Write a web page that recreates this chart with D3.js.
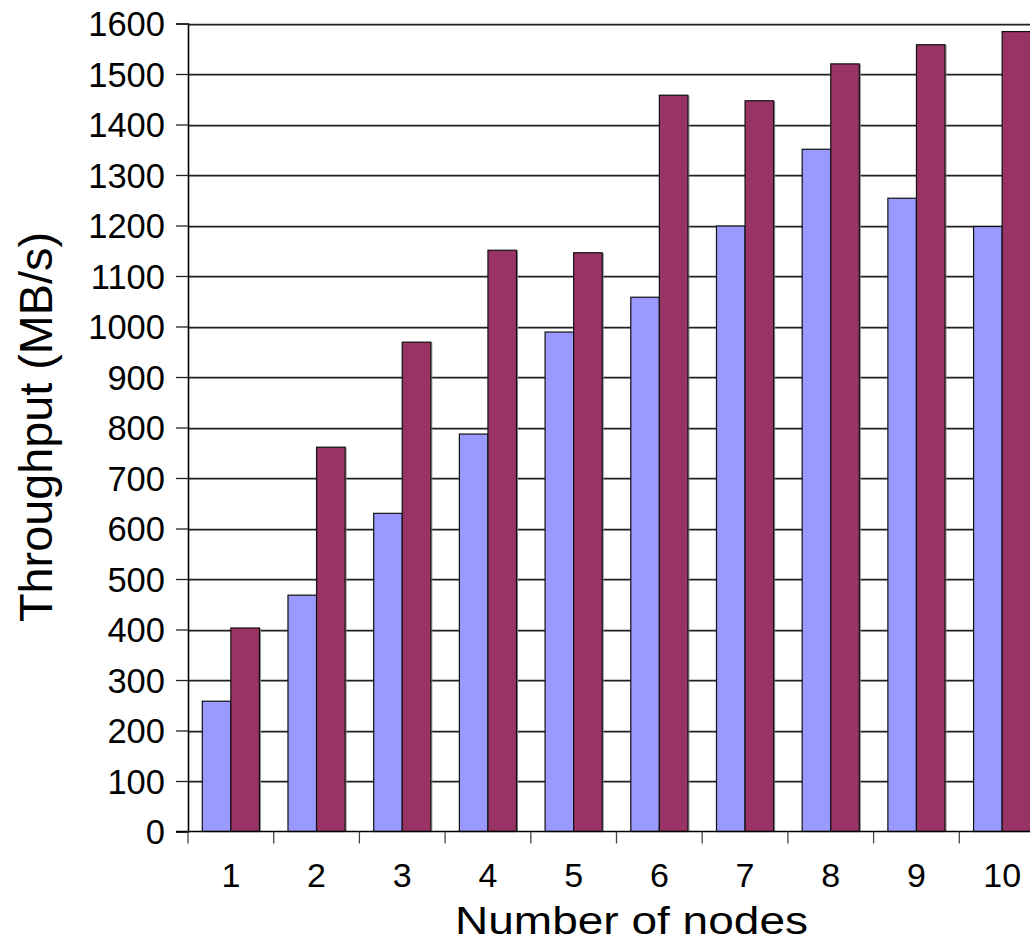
<!DOCTYPE html>
<html>
<head>
<meta charset="utf-8">
<script src="https://cdn.jsdelivr.net/npm/d3@7"></script>
<style>
  html, body { margin: 0; padding: 0; background: #fff; }
  svg { display: block; font-family: "Liberation Sans", Arial, sans-serif; }
</style>
</head>
<body>
<svg id="chart" width="1030" height="942"></svg>
<script>
const categories = ["1","2","3","4","5","6","7","8","9","10"];
const seriesA = [258, 468, 630, 787, 989, 1058, 1199, 1351, 1254, 1198];
const seriesB = [403, 761, 969, 1151, 1146, 1458, 1447, 1520, 1558, 1584];
const yTicks = [0,100,200,300,400,500,600,700,800,900,1000,1100,1200,1300,1400,1500,1600];
const colorA = "#9999FF";
const colorB = "#993366";

(function () {
const svg = d3.select("#chart");
const pLeft = 188, pRight = 1045, pTop = 23.5, pBottom = 831.5;

const x = d3.scaleBand().domain(categories).range([pLeft, pRight]).paddingInner(0).paddingOuter(0);
const y = d3.scaleLinear().domain([0, 1600]).range([pBottom, pTop]);
const bw = x.bandwidth();
const barW = bw / 3;

// gridlines
const grid = svg.append("g");
yTicks.forEach(t => {
  if (t === 0) return;
  const yy = Math.round(y(t)) + 0.5;
  grid.append("line").attr("x1", pLeft).attr("x2", 1030).attr("y1", yy + 1).attr("y2", yy + 1)
    .attr("stroke", "#b0b0b0").attr("stroke-width", 1);
  grid.append("line").attr("x1", pLeft).attr("x2", 1030).attr("y1", yy).attr("y2", yy)
    .attr("stroke", "#222").attr("stroke-width", 1.3);
});

// bars
const data = categories.map((c, i) => ({c, a: seriesA[i], b: seriesB[i]}));
const g = svg.append("g");
function drawBars(key, offset, color) {
  g.selectAll(null).data(data).enter().append("rect")
    .attr("x", d => x(d.c) + offset + 1)
    .attr("y", d => y(d[key]) + 1)
    .attr("width", barW)
    .attr("height", d => pBottom - y(d[key]) - 1)
    .attr("fill", "none").attr("stroke", "#888").attr("stroke-width", 1);
  g.selectAll(null).data(data).enter().append("rect")
    .attr("x", d => x(d.c) + offset)
    .attr("y", d => y(d[key]))
    .attr("width", barW)
    .attr("height", d => pBottom - y(d[key]))
    .attr("fill", color).attr("stroke", "#111").attr("stroke-width", 1.2);
}
drawBars("a", bw / 6, colorA);
drawBars("b", bw / 6 + barW, colorB);

// y axis
const yAxis = d3.axisLeft(y).tickValues(yTicks).tickSize(12).tickPadding(11).tickFormat(d3.format("d"));
const ya = svg.append("g").attr("transform", `translate(${pLeft},0)`).call(yAxis);
ya.select(".domain").attr("stroke", "#000").attr("stroke-width", 1.6);
ya.selectAll(".tick line").attr("stroke", "#222").attr("stroke-width", 1.3);
ya.selectAll(".tick text").attr("font-size", 34.5).attr("fill", "#000")
  .attr("font-family", "'Liberation Sans', Arial, sans-serif").attr("dy", "0.36em");

// x axis
const xa = svg.append("g").attr("transform", `translate(0,${pBottom})`)
  .call(d3.axisBottom(x).tickSize(0).tickPadding(0));
xa.select(".domain").remove();
xa.selectAll(".tick text").attr("font-size", 34).attr("fill", "#000")
  .attr("font-family", "'Liberation Sans', Arial, sans-serif").attr("dy", null).attr("y", 55);
svg.append("line").attr("x1", pLeft - 12).attr("x2", 1030).attr("y1", pBottom).attr("y2", pBottom)
  .attr("stroke", "#000").attr("stroke-width", 1.6);
const bounds = categories.map(c => x(c));
svg.append("g").selectAll("line").data(bounds).enter().append("line")
  .attr("x1", d => d).attr("x2", d => d).attr("y1", pBottom).attr("y2", pBottom + 12)
  .attr("stroke", "#444").attr("stroke-width", 1.3);

// titles
svg.append("text").attr("x", 631.5).attr("y", 934.3).attr("text-anchor", "middle")
  .attr("font-size", 39).attr("textLength", 353).attr("lengthAdjust", "spacingAndGlyphs")
  .attr("fill", "#000").text("Number of nodes");
svg.append("text").attr("transform", "translate(52.2,427) rotate(-90)").attr("text-anchor", "middle")
  .attr("font-size", 47).attr("textLength", 390).attr("lengthAdjust", "spacingAndGlyphs")
  .attr("fill", "#000").text("Throughput (MB/s)");
})();
</script>
</body>
</html>
